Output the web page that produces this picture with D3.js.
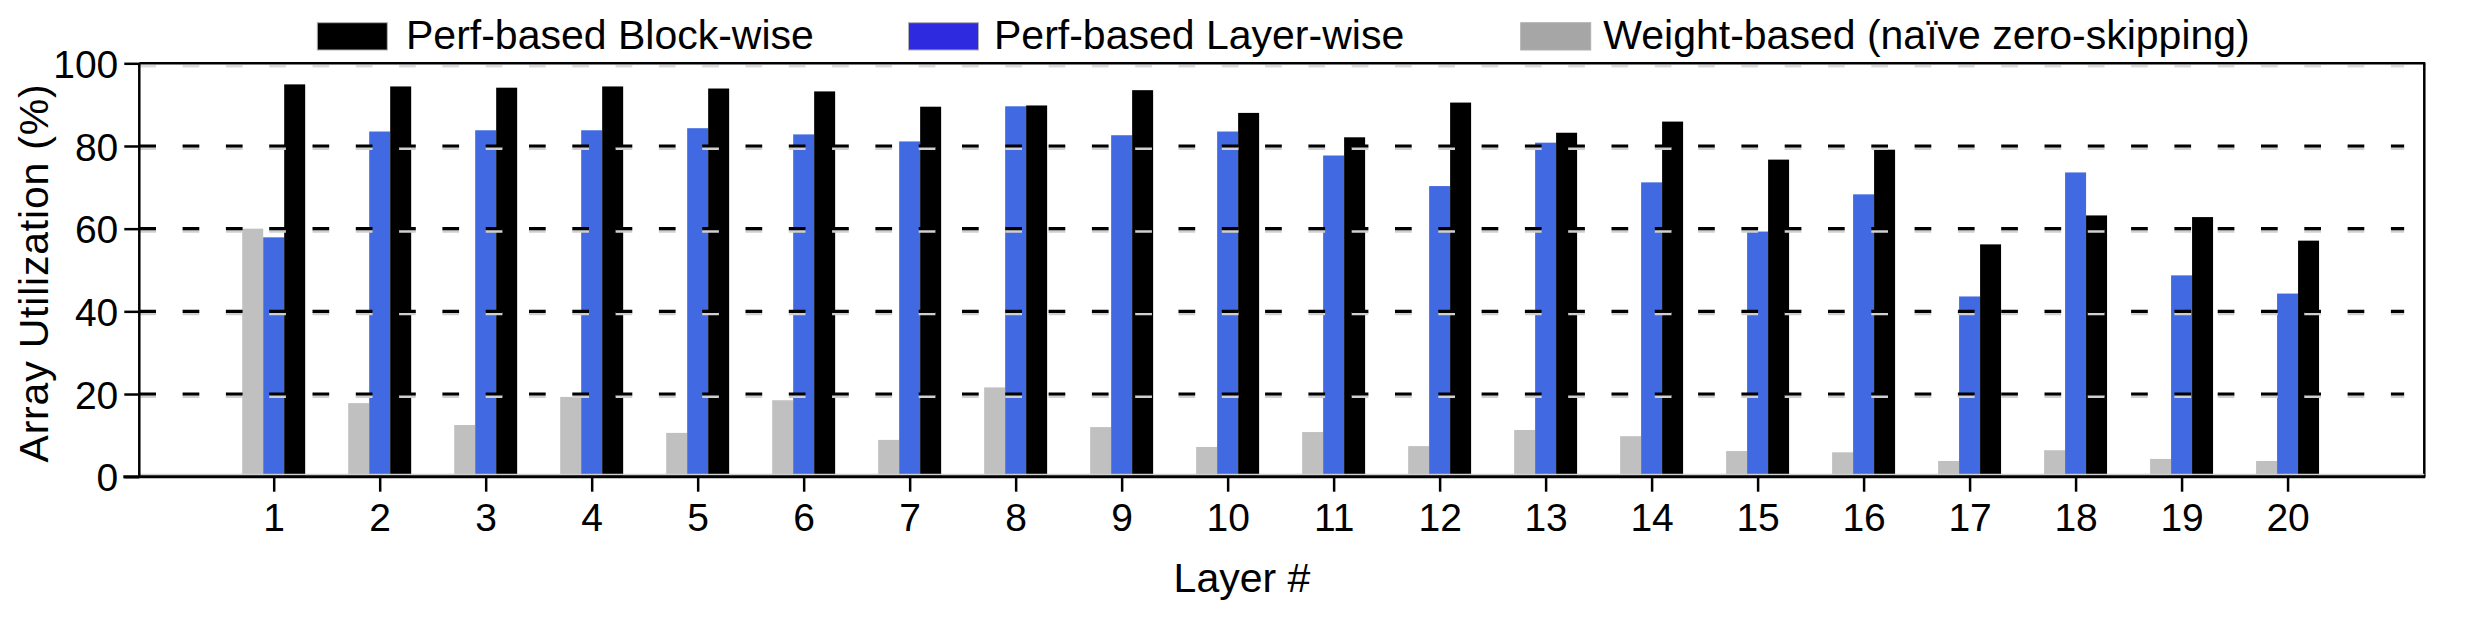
<!DOCTYPE html>
<html>
<head>
<meta charset="utf-8">
<script src="https://cdn.jsdelivr.net/npm/d3@7"></script>
<style>
  html, body { margin: 0; padding: 0; background: #fff; }
  svg { display: block; }
  text { font-family: "Liberation Sans", Arial, sans-serif; fill: #000; }
</style>
</head>
<body>
<svg id="chart" width="2481" height="622"></svg>
<script>
// ---- data ----
const layers = [1,2,3,4,5,6,7,8,9,10,11,12,13,14,15,16,17,18,19,20];
const weightBased = [60.0,17.8,12.5,19.3,10.6,18.5,8.9,21.6,12.0,7.2,10.8,7.4,11.3,9.8,6.2,5.9,3.8,6.4,4.3,3.8];
const perfLayerWise = [57.9,83.5,83.8,83.8,84.3,82.8,81.1,89.6,82.6,83.5,77.7,70.3,80.8,71.2,59.3,68.3,43.6,73.6,48.7,44.3];
const perfBlockWise = [94.9,94.4,94.1,94.4,93.9,93.2,89.5,89.8,93.5,88.0,82.1,90.5,83.2,85.9,76.7,79.1,56.2,63.2,62.8,57.1];
const yTicks = [0,20,40,60,80,100];
const gridValues = [20,40,60,80];
const seriesNames = ["Weight-based (naïve zero-skipping)", "Perf-based Layer-wise", "Perf-based Block-wise"];
const legendOrder = ["Perf-based Block-wise", "Perf-based Layer-wise", "Weight-based (naïve zero-skipping)"];
const barColors = {"Weight-based (naïve zero-skipping)": "#c0c0c0", "Perf-based Layer-wise": "#4169e1", "Perf-based Block-wise": "#000000"};
const legendColors = {"Weight-based (naïve zero-skipping)": "#a6a6a6", "Perf-based Layer-wise": "#2e2ae0", "Perf-based Block-wise": "#000000"};
const seriesData = {
  "Weight-based (naïve zero-skipping)": weightBased,
  "Perf-based Layer-wise": perfLayerWise,
  "Perf-based Block-wise": perfBlockWise
};

const svg = d3.select("#chart");
const L = 139.3, R = 2424.3, T = 63.3, B = 476.7;
const FS = 41, TFS = 39;

const x = d3.scaleLinear().domain([-0.268, 21.29]).range([L, R]);
const y = d3.scaleLinear().domain([0, 100]).range([B, T]);
const unit = x(1) - x(0);
const sub = d3.scaleBand().domain(seriesNames).range([-0.297 * unit, 0.297 * unit]);

// bars
const gBars = svg.append("g");
seriesNames.forEach(s => {
  gBars.selectAll(null).data(layers.map((l, i) => ({l, v: seriesData[s][i]})))
    .enter().append("rect")
    .attr("x", d => x(d.l) + sub(s))
    .attr("width", sub.bandwidth())
    .attr("y", d => y(d.v))
    .attr("height", d => y(0) - y(d.v))
    .attr("fill", barColors[s]);
});

// gridlines (with faint shadow), drawn above bars
const gGrid = svg.append("g");
gGrid.append("line")
  .attr("x1", L).attr("x2", x(21.1))
  .attr("y1", y(100) + 3).attr("y2", y(100) + 3)
  .attr("stroke", "#dcdcdc").attr("stroke-width", 2.5)
  .attr("stroke-dasharray", "16.7 26.6");
gridValues.forEach(v => {
  gGrid.append("line")
    .attr("x1", L).attr("x2", x(21.1))
    .attr("y1", y(v) + 2.5).attr("y2", y(v) + 2.5)
    .attr("stroke", "#d0d0d0").attr("stroke-width", 3)
    .attr("stroke-dasharray", "16.7 26.6");
  gGrid.append("line")
    .attr("x1", L).attr("x2", x(21.1))
    .attr("y1", y(v)).attr("y2", y(v))
    .attr("stroke", "#000").attr("stroke-width", 3.2)
    .attr("stroke-dasharray", "16.7 26.6");
});

// plot frame: top and right
svg.append("line").attr("x1", L).attr("x2", R + 1).attr("y1", T).attr("y2", T)
  .attr("stroke", "#000").attr("stroke-width", 2.5);
svg.append("line").attr("x1", R).attr("x2", R).attr("y1", T).attr("y2", B)
  .attr("stroke", "#000").attr("stroke-width", 2.5);

// baseline shadow
svg.append("line").attr("x1", L).attr("x2", R).attr("y1", B - 2).attr("y2", B - 2)
  .attr("stroke", "#d0d0d0").attr("stroke-width", 2);

// y axis
const yAxis = d3.axisLeft(y).tickValues(yTicks).tickSize(15).tickPadding(6).tickFormat(d3.format("d"));
const gy = svg.append("g").attr("transform", `translate(${L},0)`).call(yAxis);
gy.select(".domain").attr("stroke", "#000").attr("stroke-width", 2.5).attr("d", `M0,${B}V${T}`);
gy.selectAll(".tick line").attr("stroke", "#000").attr("stroke-width", 2.5);
gy.selectAll(".tick text").attr("font-size", TFS).attr("font-family", "Liberation Sans, Arial, sans-serif")
  .attr("dy", "0.36em");

// x axis
const xAxis = d3.axisBottom(x).tickValues(layers).tickSize(15).tickPadding(12).tickFormat(d3.format("d"));
const gx = svg.append("g").attr("transform", `translate(0,${B})`).call(xAxis);
gx.select(".domain").attr("stroke", "#000").attr("stroke-width", 3).attr("d", `M${L - 16},0H${R + 1}`);
gx.selectAll(".tick line").attr("stroke", "#000").attr("stroke-width", 2.5);
gx.selectAll(".tick text").attr("font-size", TFS).attr("font-family", "Liberation Sans, Arial, sans-serif")
  .attr("dy", "0.71em");

// axis titles
svg.append("text")
  .attr("x", 1242).attr("y", 592)
  .attr("text-anchor", "middle").attr("font-size", FS)
  .text("Layer #");
svg.append("text")
  .attr("transform", `translate(48,${(T + B) / 2 + 3}) rotate(-90)`)
  .attr("text-anchor", "middle").attr("font-size", FS)
  .attr("letter-spacing", 0.8)
  .text("Array Utilization (%)");

// legend
const legendX = [317.3, 908.5, 1520.7];
const legendTextX = [406, 994, 1603.3];
legendOrder.forEach((s, i) => {
  svg.append("rect")
    .attr("x", legendX[i]).attr("y", 22.7).attr("width", 70).attr("height", 27.3)
    .attr("fill", legendColors[s]).attr("stroke", "#b0b0b0").attr("stroke-width", 1);
  svg.append("text")
    .attr("x", legendTextX[i]).attr("y", 48.5)
    .attr("font-size", FS)
    .text(s);
});
</script>
</body>
</html>
